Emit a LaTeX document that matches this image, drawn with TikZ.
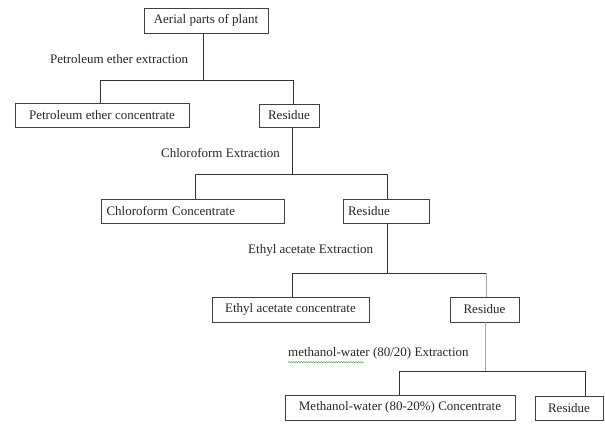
\documentclass[tikz,border=0pt]{standalone}
\usepackage{fontspec}
\setmainfont{Liberation Serif}
\usetikzlibrary{decorations.pathmorphing}
\begin{document}
\begin{tikzpicture}[x=1pt,y=-1pt,
  box/.style={draw=black!75,line width=0.9pt,rectangle,inner xsep=0pt,inner ysep=0pt,
    font=\fontsize{13}{15}\selectfont,text=black!85},
  lab/.style={font=\fontsize{13}{15}\selectfont,text=black!85,inner sep=0pt},
  conn/.style={draw=black!80,line width=0.9pt},
  connlight/.style={draw=black!35,line width=0.9pt}]
\useasboundingbox (0,0) rectangle (605,423);
% boxes
\node[box,minimum width=124pt,minimum height=25pt] (a) at (206,20.5) {Aerial parts of plant};
\node[box,minimum width=174pt,minimum height=24pt] (pe) at (102,115) {Petroleum ether concentrate};
\node[box,minimum width=60pt,minimum height=23pt] (r1) at (289,115.5) {Residue};
\node[box,minimum width=183pt,minimum height=24pt,text width=172pt,align=left] (cc) at (192.5,211) {Chloroform Concentrate};
\node[box,minimum width=86pt,minimum height=24pt,text width=76pt,align=left] (r2) at (386,211) {Residue};
\node[box,minimum width=157pt,minimum height=25pt] (ea) at (290.5,309.5) {Ethyl acetate concentrate};
\node[box,minimum width=69pt,minimum height=25pt] (r3) at (484.5,309.5) {Residue};
\node[box,minimum width=230pt,minimum height=25pt] (mw) at (400,407.5) {Methanol-water (80-20\%) Concentrate};
\node[box,minimum width=68pt,minimum height=24pt] (r4) at (569,408) {Residue};
% labels
\node[lab,anchor=west] (l1) at (50,59) {Petroleum ether extraction};
\node[lab,anchor=west] (l2) at (161,153) {Chloroform Extraction};
\node[lab,anchor=west] (l3) at (248,250) {Ethyl acetate Extraction};
\node[lab,anchor=west] (l4) at (288,353) {methanol-water (80/20) Extraction};
\draw[draw=green!40!black!60,line width=0.5pt,decorate,decoration={snake,amplitude=0.6pt,segment length=2.5pt}]
  ([yshift=-3pt]l4.south west) -- ++(76,0);
% junctions
\coordinate (j1) at (203,80);
\coordinate (h1l) at (100,80);
\coordinate (h1r) at (293,80);
\coordinate (j2) at (292,174);
\coordinate (h2l) at (195,174);
\coordinate (h2r) at (387,174);
\coordinate (j3) at (387,273);
\coordinate (h3l) at (292,273);
\coordinate (h3r) at (486,273);
\coordinate (j4) at (485,371);
\coordinate (h4l) at (399,371);
\coordinate (h4r) at (585,371);
% connectors
\draw[conn] (j1 |- a.south) -- (j1);
\draw[conn] (h1l |- pe.north) -- (h1l) -- (h1r) -- (h1r |- r1.north);
\draw[conn] (j2 |- r1.south) -- (j2);
\draw[conn] (h2l |- cc.north) -- (h2l) -- (h2r) -- (h2r |- r2.north);
\draw[conn] (j3 |- r2.south) -- (j3);
\draw[conn] (h3l |- ea.north) -- (h3l) -- (h3r);
\draw[connlight] (h3r) -- (h3r |- r3.north);
\draw[connlight] (j4 |- r3.south) -- (j4);
\draw[conn] (h4l |- mw.north) -- (h4l) -- (h4r) -- (h4r |- r4.north);
\end{tikzpicture}
\end{document}
